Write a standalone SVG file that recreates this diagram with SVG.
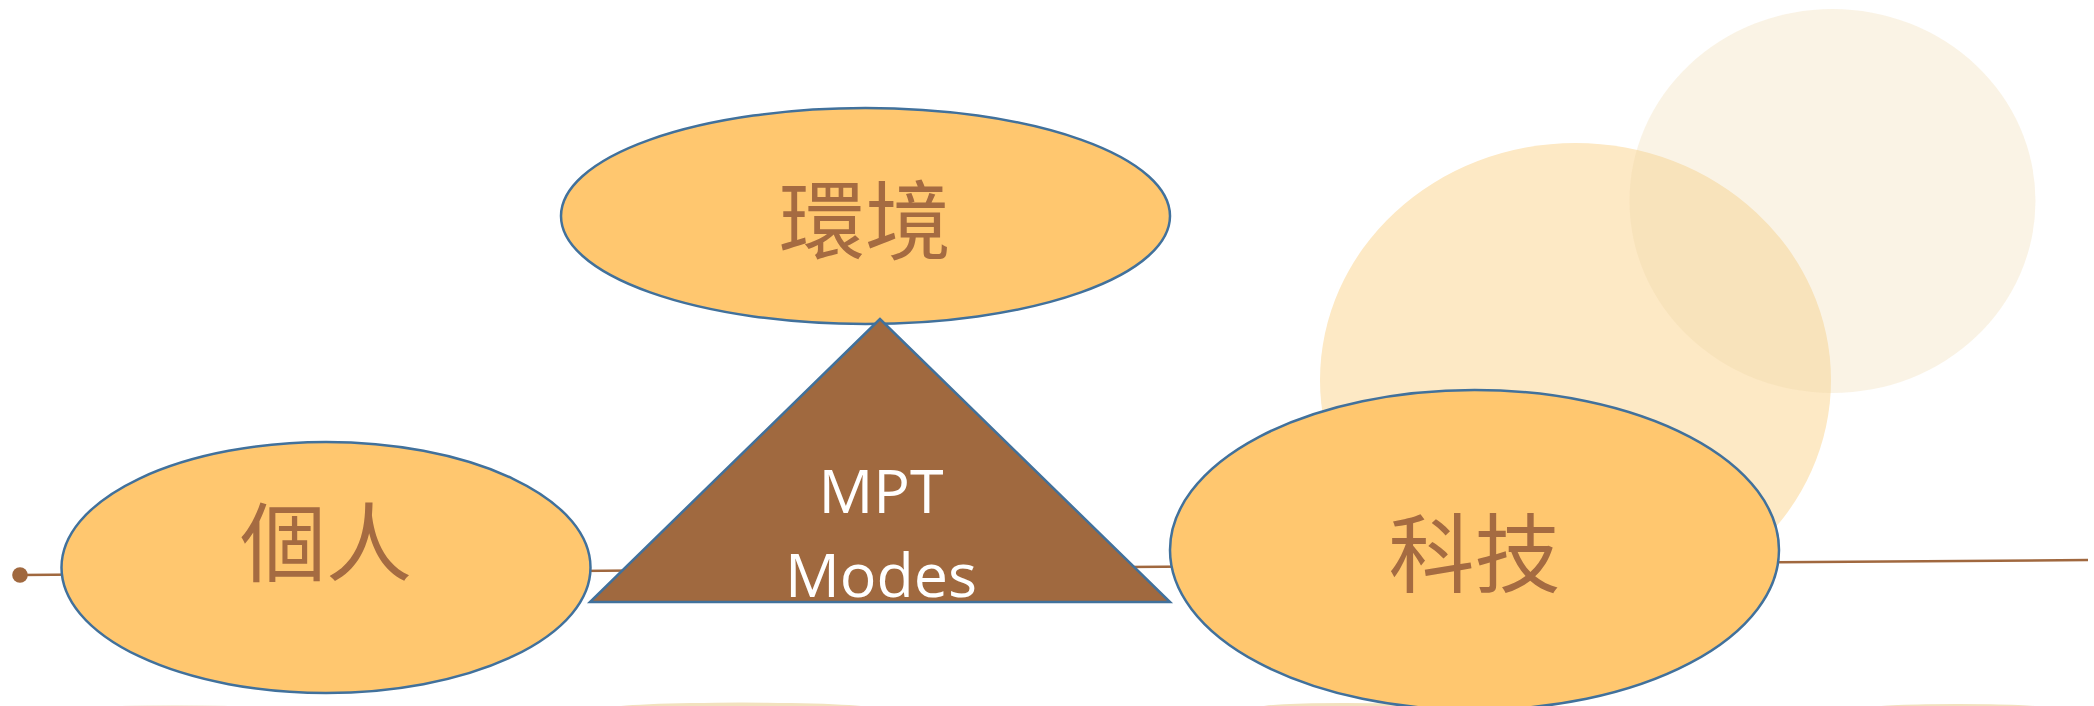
<svg xmlns="http://www.w3.org/2000/svg" width="2094" height="706" viewBox="0 0 2094 706">
<style>
.node{fill:#FFC76F;stroke:#41719C;stroke-width:2.5}
.cjk{font-family:"Noto Sans CJK TC","Noto Sans CJK SC",sans-serif;font-size:86px;fill:#A56B41;text-anchor:middle}
.lat{font-family:"Open Sans","Noto Sans",sans-serif;font-size:61px;fill:#FFFFFF;text-anchor:middle}
.conn{stroke:#A0683F;stroke-width:2.5;fill:none}
.deco{fill:#F2E2BE}
</style>
<rect width="2094" height="706" fill="#FFFFFF"/>
<g id="background">
  <ellipse cx="1575.5" cy="380" rx="255.5" ry="237" fill="#FDE9C5"/>
  <ellipse cx="1832.5" cy="201" rx="203" ry="192" fill="#EDD5A0" fill-opacity="0.28"/>
  <ellipse class="deco" cx="175" cy="707.5" rx="70" ry="2.5" fill-opacity="0.5"/>
  <ellipse class="deco" cx="741" cy="708" rx="130" ry="5.4"/>
  <ellipse class="deco" cx="1344" cy="707.5" rx="85" ry="4.5"/>
  <ellipse class="deco" cx="1958" cy="707.5" rx="85" ry="3.5"/>
</g>
<g id="connectors">
  <line class="conn" x1="20" y1="575" x2="2088" y2="560"/>
  <circle cx="20" cy="575" r="7.8" fill="#A0683F"/>
</g>
<g id="node-personal">
  <ellipse class="node" cx="326" cy="567.5" rx="264.5" ry="125.5"/>
  <text class="cjk" x="326" y="575">個人</text>
</g>
<g id="node-environment">
  <ellipse class="node" cx="865.5" cy="216" rx="304.5" ry="108"/>
  <text class="cjk" x="865" y="253">環境</text>
</g>
<g id="node-mpt">
  <polygon points="880,319 590,602 1170,602" fill="#A0693F" stroke="#41719C" stroke-width="2.5" stroke-linejoin="miter"/>
  <text class="lat" x="881" y="513">MPT</text>
  <text class="lat" x="881" y="597">Modes</text>
</g>
<g id="node-technology">
  <ellipse class="node" cx="1474.5" cy="550" rx="304.5" ry="160"/>
  <text class="cjk" x="1474.5" y="586">科技</text>
</g>
</svg>
